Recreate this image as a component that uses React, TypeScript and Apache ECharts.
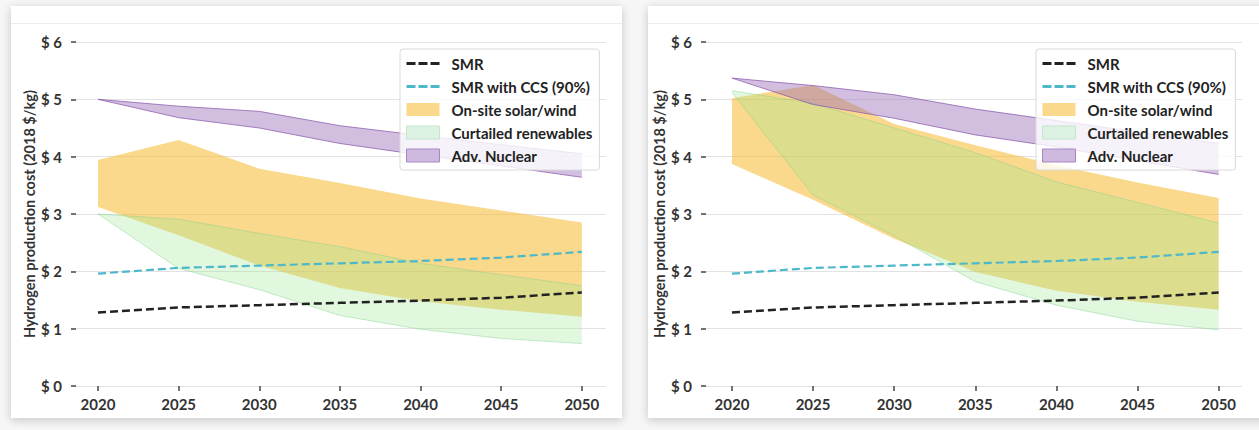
import React, { useEffect, useRef } from "react";
import * as echarts from "echarts";

const years = [2020, 2025, 2030, 2035, 2040, 2045, 2050];

// shared
const smr = [1.28, 1.37, 1.41, 1.45, 1.49, 1.54, 1.63];
const smrCcs = [1.96, 2.06, 2.1, 2.14, 2.18, 2.24, 2.34];

// left panel
const solarHighL = [3.94, 4.29, 3.79, 3.54, 3.27, 3.06, 2.85];
const solarLowL = [3.12, 2.63, 2.1, 1.71, 1.48, 1.33, 1.21];
const curtailHighL = [3.0, 2.91, 2.66, 2.43, 2.14, 1.94, 1.75];
const curtailLowL = [3.0, 2.05, 1.68, 1.23, 0.99, 0.83, 0.74];
const nuclearHighL = [5.0, 4.88, 4.79, 4.54, 4.37, 4.21, 4.05];
const nuclearLowL = [5.0, 4.68, 4.5, 4.23, 4.03, 3.84, 3.64];

// right panel
const solarHighR = [5.02, 5.25, 4.57, 4.2, 3.85, 3.55, 3.28];
const solarLowR = [3.87, 3.25, 2.57, 1.99, 1.66, 1.47, 1.33];
const curtailHighR = [5.15, 4.93, 4.5, 4.07, 3.56, 3.2, 2.84];
const curtailLowR = [5.12, 3.33, 2.62, 1.82, 1.41, 1.13, 0.98];
const nuclearHighR = [5.37, 5.24, 5.08, 4.83, 4.63, 4.43, 4.23];
const nuclearLowR = [5.37, 4.91, 4.67, 4.38, 4.17, 3.93, 3.69];

const FONT = "Lato";
const TXT = "#333333";

const N_SMR = "SMR";
const N_CCS = "SMR with CCS (90%)";
const N_SOLAR = "On-site solar/wind";
const N_CURT = "Curtailed renewables";
const N_NUC = "Adv. Nuclear";

const C_SOLAR = "rgba(245,184,46,0.55)";
const C_CURT = "rgba(155,232,150,0.3)";
const C_NUC = "rgba(155,110,185,0.45)";
const E_CURT = "rgba(130,210,140,0.45)";
const E_NUC = "rgba(140,90,175,0.75)";

// opaque equivalents for legend keys
const L_SOLAR = "#fad88c";
const L_CURT = "#ddf2e3";
const L_NUC = "#cfbadf";
const LB_CURT = "#c3e6cc";
const LB_NUC = "#a987c4";

function band(
  name: string,
  low: number[],
  high: number[],
  idx: number,
  fill: string,
  edge: string | null,
  key: string,
  keyBorder: string | null
) {
  return {
    name,
    type: "custom",
    xAxisIndex: idx,
    yAxisIndex: idx,
    silent: true,
    z: 2,
    itemStyle: keyBorder
      ? { color: key, borderColor: keyBorder, borderWidth: 1, opacity: 1 }
      : { color: key, borderWidth: 0, opacity: 1 },
    encode: { x: 0, y: [1, 2] },
    data: years.map((y, i) => [y, low[i], high[i]]),
    renderItem: (params: any, api: any) => {
      if (params.dataIndex !== 0) return null;
      const top = years.map((y, i) => api.coord([y, high[i]]));
      const bot = years.map((y, i) => api.coord([y, low[i]]));
      const children: any[] = [
        {
          type: "polygon",
          shape: { points: [...top, ...bot.slice().reverse()] },
          style: { fill, stroke: "none" },
        },
      ];
      if (edge) {
        children.push(
          { type: "polyline", shape: { points: top }, style: { stroke: edge, lineWidth: 1, fill: "none" } },
          { type: "polyline", shape: { points: bot }, style: { stroke: edge, lineWidth: 1, fill: "none" } }
        );
      }
      return { type: "group", children };
    },
  };
}

function lines(idx: number) {
  return [
    {
      name: N_SMR,
      type: "line",
      xAxisIndex: idx,
      yAxisIndex: idx,
      symbol: "none",
      z: 3,
      data: years.map((y, i) => [y, smr[i]]),
      lineStyle: { color: "#222222", width: 2.5, type: [8, 4] },
      itemStyle: { color: "#222222" },
    },
    {
      name: N_CCS,
      type: "line",
      xAxisIndex: idx,
      yAxisIndex: idx,
      symbol: "none",
      z: 3,
      data: years.map((y, i) => [y, smrCcs[i]]),
      lineStyle: { color: "#4db8ca", width: 2.2, type: [8, 4] },
      itemStyle: { color: "#4db8ca" },
    },
  ];
}

const DASH_ICON = "path://M0,0H9V3H0Z M12,0H21V3H12Z M24,0H33V3H24Z";

function legendFor(left: number) {
  return {
    orient: "vertical",
    left,
    top: 49,
    z: 10,
    padding: [7, 7, 7, 6],
    itemWidth: 33,
    itemHeight: 13,
    itemGap: 8,
    backgroundColor: "rgba(255,255,255,0.8)",
    borderColor: "#d9d9d9",
    borderWidth: 1,
    borderRadius: 3,
    textStyle: {
      fontFamily: FONT,
      fontWeight: "bold",
      fontSize: 15,
      lineHeight: 14,
      color: "#222222",
      padding: [0, 0, 0, 7],
    },
    data: [
      { name: N_SMR, icon: DASH_ICON, itemStyle: { color: "#222222", borderWidth: 0 } },
      { name: N_CCS, icon: DASH_ICON, itemStyle: { color: "#4db8ca", borderWidth: 0 } },
      { name: N_SOLAR, icon: "rect", itemStyle: { color: L_SOLAR, borderWidth: 0, opacity: 1 } },
      { name: N_CURT, icon: "rect", itemStyle: { color: L_CURT, borderColor: LB_CURT, borderWidth: 1, opacity: 1 } },
      { name: N_NUC, icon: "rect", itemStyle: { color: L_NUC, borderColor: LB_NUC, borderWidth: 1, opacity: 1 } },
    ],
  };
}

function xAxisFor(idx: number, min: number, max: number) {
  return {
    type: "value",
    gridIndex: idx,
    min,
    max,
    axisLine: { show: false },
    splitLine: { show: false },
    axisTick: {
      show: true,
      customValues: years,
      length: 5,
      lineStyle: { color: "#444444", width: 1.5 },
    },
    axisLabel: {
      customValues: years,
      margin: 10,
      fontFamily: FONT,
      fontWeight: "bold",
      fontSize: 15,
      color: TXT,
      formatter: (v: number) => String(v),
    },
  };
}

function yAxisFor(idx: number) {
  return {
    type: "value",
    gridIndex: idx,
    min: 0,
    max: 6,
    interval: 1,
    axisLine: { show: false },
    axisTick: { show: true, length: 5, lineStyle: { color: "#444444", width: 1.5 } },
    splitLine: { lineStyle: { color: "#e2e2e2", width: 1 } },
    axisLabel: {
      margin: 14,
      fontFamily: FONT,
      fontWeight: "bold",
      fontSize: 15,
      color: TXT,
      formatter: (v: number) => `$ ${v}`,
    },
    name: "Hydrogen production cost (2018 $/kg)",
    nameLocation: "middle",
    nameGap: 38,
    nameTextStyle: { fontFamily: FONT, fontWeight: "bold", fontSize: 14.5, color: TXT },
  };
}

export default function App() {
  const ref = useRef<HTMLDivElement>(null);

  useEffect(() => {
    if (!ref.current) return;
    const chart = echarts.init(ref.current, null, { renderer: "svg" });
    const option = {
      animation: false,
      backgroundColor: "transparent",
      grid: [
        { left: 76, top: 42, width: 530, height: 344 },
        { left: 706, top: 42, width: 536, height: 344 },
      ],
      xAxis: [xAxisFor(0, 2018.635, 2051.5), xAxisFor(1, 2018.4, 2051.44)],
      yAxis: [yAxisFor(0), yAxisFor(1)],
      legend: [legendFor(400), legendFor(1036)],
      series: [
        band(N_SOLAR, solarLowL, solarHighL, 0, C_SOLAR, null, L_SOLAR, null),
        band(N_CURT, curtailLowL, curtailHighL, 0, C_CURT, E_CURT, L_CURT, LB_CURT),
        band(N_NUC, nuclearLowL, nuclearHighL, 0, C_NUC, E_NUC, L_NUC, LB_NUC),
        ...lines(0),
        band(N_SOLAR, solarLowR, solarHighR, 1, C_SOLAR, null, L_SOLAR, null),
        band(N_CURT, curtailLowR, curtailHighR, 1, C_CURT, E_CURT, L_CURT, LB_CURT),
        band(N_NUC, nuclearLowR, nuclearHighR, 1, C_NUC, E_NUC, L_NUC, LB_NUC),
        ...lines(1),
      ],
    };
    chart.setOption(option as any);
    return () => chart.dispose();
  }, []);

  const card = (left: number, width: number): React.CSSProperties => ({
    position: "absolute",
    left,
    top: 6,
    width,
    height: 412,
    background: "#ffffff",
    boxShadow: "0 2px 9px rgba(0,0,0,0.2)",
  });

  return (
    <div
      style={{
        position: "fixed",
        left: 0,
        top: 0,
        width: 1259,
        height: 430,
        background: "#f6f6f6",
        overflow: "hidden",
      }}
    >
      <div style={card(11, 611)}>
        <div style={{ position: "absolute", left: 0, right: 0, top: 17, height: 1, background: "#ededed" }} />
      </div>
      <div style={card(648, 620)}>
        <div style={{ position: "absolute", left: 0, right: 0, top: 17, height: 1, background: "#ededed" }} />
      </div>
      <div ref={ref} style={{ position: "absolute", left: 0, top: 0, width: 1259, height: 430 }} />
    </div>
  );
}
